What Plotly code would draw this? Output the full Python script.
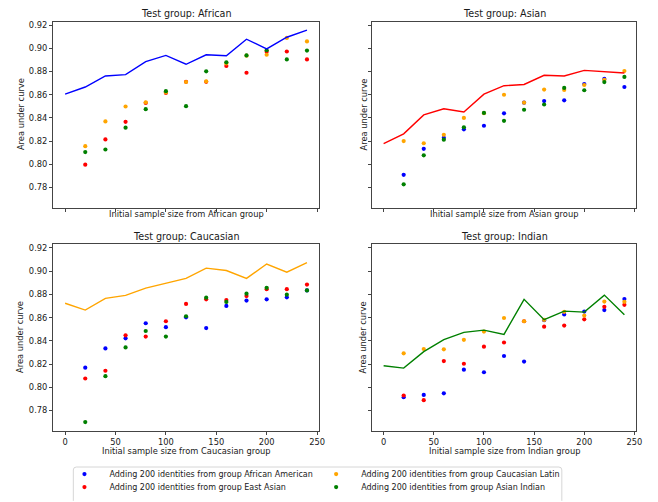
import plotly.graph_objects as go

# ---- data -------------------------------------------------------------
sample_sizes = [0, 20, 40, 60, 80, 100, 120, 140, 160, 180, 200, 220, 240]
added_sizes = [20, 40, 60, 80, 100, 120, 140, 160, 180, 200, 220, 240]

test_groups = ["African", "Asian", "Caucasian", "Indian"]
added_groups = ["African American", "East Asian", "Caucasian Latin", "Asian Indian"]
group_colors = ["blue", "red", "orange", "green"]

# AUC of the test group with only its own initial samples (line)
african_baseline = [0.8605, 0.8667, 0.8762, 0.8774, 0.8886, 0.8939, 0.8863,
                    0.8945, 0.8936, 0.9079, 0.8995, 0.9096, 0.9158]
asian_baseline = [0.8179, 0.8263, 0.8426, 0.8479, 0.8451, 0.8605, 0.8678,
                  0.8689, 0.8768, 0.8762, 0.8810, 0.8802, 0.8788]
caucasian_baseline = [0.8724, 0.8665, 0.8766, 0.8792, 0.8854, 0.8893, 0.8938,
                      0.9026, 0.9006, 0.8938, 0.9062, 0.8992, 0.9073]
indian_baseline = [0.8186, 0.8166, 0.8307, 0.8411, 0.8473, 0.8493, 0.8456,
                   0.8758, 0.8583, 0.8656, 0.8648, 0.8794, 0.8625]

# AUC after adding 200 identities from another group (points)
african_add_east_asian = [0.7997, 0.8215, 0.8367, 0.8530, 0.8616, 0.8712,
                          0.8712, 0.8849, 0.8790, 0.8970, 0.8973, 0.8905]
african_add_caucasian_latin = [0.8157, 0.8370, 0.8499, 0.8535, 0.8620, 0.8710,
                               0.8715, 0.8870, 0.8937, 0.8945, 0.9090, 0.9060]
african_add_asian_indian = [0.8106, 0.8128, 0.8316, 0.8476, 0.8631, 0.8502,
                            0.8802, 0.8880, 0.8939, 0.8984, 0.8905, 0.8981]

asian_add_african_american = [0.7910, 0.8134, 0.8229, 0.8302, 0.8333, 0.8440,
                              0.8532, 0.8546, 0.8552, 0.8692, 0.8737, 0.8667]
asian_add_caucasian_latin = [0.8201, 0.8182, 0.8255, 0.8400, 0.8441, 0.8600,
                             0.8532, 0.8645, 0.8642, 0.8684, 0.8729, 0.8805]
asian_add_asian_indian = [0.7828, 0.8078, 0.8213, 0.8319, 0.8443, 0.8375,
                          0.8471, 0.8516, 0.8659, 0.8639, 0.8709, 0.8754]

caucasian_add_african_american = [0.8169, 0.8335, 0.8422, 0.8552, 0.8518, 0.8603,
                                  0.8510, 0.8701, 0.8747, 0.8758, 0.8775, 0.8834]
caucasian_add_east_asian = [0.8076, 0.8143, 0.8448, 0.8437, 0.8569, 0.8718,
                            0.8758, 0.8752, 0.8786, 0.8845, 0.8845, 0.8885]
caucasian_add_asian_indian = [0.7701, 0.8096, 0.8344, 0.8485, 0.8437, 0.8612,
                              0.8772, 0.8735, 0.8806, 0.8857, 0.8798, 0.8834]

indian_add_african_american = [0.7915, 0.7935, 0.7949, 0.8152, 0.8130, 0.8270,
                               0.8222, 0.8578, 0.8628, 0.8652, 0.8665, 0.8760]
indian_add_east_asian = [0.7930, 0.7890, 0.8226, 0.8203, 0.8350, 0.8386,
                         0.8569, 0.8522, 0.8532, 0.8586, 0.8693, 0.8710]
indian_add_caucasian_latin = [0.8293, 0.8330, 0.8327, 0.8409, 0.8480, 0.8597,
                              0.8569, 0.8580, 0.8650, 0.8618, 0.8738, 0.8736]

x_ticks = [0, 50, 100, 150, 200, 250]
y_ticks = [0.78, 0.80, 0.82, 0.84, 0.86, 0.88, 0.90, 0.92]

baselines = {
    "African": african_baseline,
    "Asian": asian_baseline,
    "Caucasian": caucasian_baseline,
    "Indian": indian_baseline,
}
# per test group: {added group: values}
additions = {
    "African": {"East Asian": african_add_east_asian,
                "Caucasian Latin": african_add_caucasian_latin,
                "Asian Indian": african_add_asian_indian},
    "Asian": {"African American": asian_add_african_american,
              "Caucasian Latin": asian_add_caucasian_latin,
              "Asian Indian": asian_add_asian_indian},
    "Caucasian": {"African American": caucasian_add_african_american,
                  "East Asian": caucasian_add_east_asian,
                  "Asian Indian": caucasian_add_asian_indian},
    "Indian": {"African American": indian_add_african_american,
               "East Asian": indian_add_east_asian,
               "Caucasian Latin": indian_add_caucasian_latin},
}
# line colour = the group matching the test set
baseline_color = {"African": "blue", "Asian": "red",
                  "Caucasian": "orange", "Indian": "green"}
# legend grid: one legend box per entry, (column, row)
legend_cell = {"African American": ("legend", 0, 0),
               "East Asian": ("legend2", 0, 1),
               "Caucasian Latin": ("legend3", 1, 0),
               "Asian Indian": ("legend4", 1, 1)}

# ---- layout geometry (pixels) ----------------------------------------
W, H = 658, 502
cols_px = [(53.5, 322.0), (375.0, 642.3)]
rows_px = [(21.0, 210.7), (248.3, 438.3)]
legend_cols_px = [60.0, 314.0]
legend_rows_px = [482.7, 496.0]


def xdom(c):
    a, b = cols_px[c]
    return [a / W, b / W]


def ydom(r):
    a, b = rows_px[r]
    return [1 - b / H, 1 - a / H]


FONT = "DejaVu Sans"
TEXT = "#1a1a1a"
FS = 8.3        # tick / axis-label font
FS_LEG = 8.0    # legend font
FS_TITLE = 9.6  # subplot titles

fig = go.Figure()
shown = set()

for i, tg in enumerate(test_groups):
    ax = "" if i == 0 else str(i + 1)
    xa, ya = "x" + ax, "y" + ax
    # points first, the line is drawn on top of them
    for g, col in zip(added_groups, group_colors):
        if g not in additions[tg]:
            continue
        fig.add_trace(go.Scatter(
            x=added_sizes, y=additions[tg][g], mode="markers",
            marker=dict(color=col, size=4.2, line=dict(width=0)),
            name=f"Adding 200 identities from group {g}",
            legendgroup=g, legend=legend_cell[g][0],
            showlegend=g not in shown,
            xaxis=xa, yaxis=ya, hoverinfo="x+y+name",
        ))
        shown.add(g)
    fig.add_trace(go.Scatter(
        x=sample_sizes, y=baselines[tg], mode="lines",
        line=dict(color=baseline_color[tg], width=1.4),
        showlegend=False, xaxis=xa, yaxis=ya,
        name=f"Test group: {tg}",
    ))

axis_common = dict(
    showline=True, linecolor="#444", linewidth=1, mirror=True,
    ticks="outside", ticklen=3, tickwidth=0.8, tickcolor="#444",
    showgrid=False, zeroline=False,
    tickfont=dict(family=FONT, size=FS, color=TEXT),
)

layout = dict(
    width=W, height=H,
    margin=dict(l=0, r=0, t=0, b=0),
    paper_bgcolor="white", plot_bgcolor="white",
    font=dict(family=FONT, size=FS, color=TEXT),
)
annotations = []
for i, tg in enumerate(test_groups):
    r, c = divmod(i, 2)
    ax = "" if i == 0 else str(i + 1)
    layout["xaxis" + ax] = dict(
        axis_common, domain=xdom(c), anchor="y" + ax,
        range=[-12, 252], tickvals=x_ticks, showticklabels=(r == 1),
    )
    layout["yaxis" + ax] = dict(
        axis_common, domain=ydom(r), anchor="x" + ax,
        range=[0.7628, 0.9231], tickvals=y_ticks, tickformat=".2f",
        showticklabels=(c == 0),
    )
    top, bot = rows_px[r]
    # subplot title
    annotations.append(dict(
        text=f"Test group: {tg}", xref="x" + ax + " domain", x=0.5,
        yref="paper", y=1 - (top - 8.2) / H, xanchor="center", yanchor="middle",
        showarrow=False, font=dict(family=FONT, size=FS_TITLE, color=TEXT),
    ))
    # x-axis title
    xt_py = 217.3 if r == 0 else 459.3
    annotations.append(dict(
        text=f"Initial sample size from {tg} group", xref="x" + ax + " domain",
        x=0.5, yref="paper", y=1 - xt_py / H, xanchor="center",
        yanchor="middle", showarrow=False,
        font=dict(family=FONT, size=FS, color=TEXT),
    ))
    # y-axis title
    yt_px = 20.7 if c == 0 else 367.3
    annotations.append(dict(
        text="Area under curve", xref="paper", x=yt_px / W,
        yref="y" + ax + " domain", y=0.5, xanchor="center", yanchor="middle",
        textangle=-90, showarrow=False,
        font=dict(family=FONT, size=FS, color=TEXT),
    ))
layout["annotations"] = annotations

legend_common = dict(
    orientation="h", xanchor="left", yanchor="middle",
    bgcolor="rgba(0,0,0,0)", borderwidth=0, itemwidth=40,
    font=dict(family=FONT, size=FS_LEG, color=TEXT), itemclick=False,
)
for name, col, row in legend_cell.values():
    layout[name] = dict(legend_common, x=legend_cols_px[col] / W,
                        y=1 - legend_rows_px[row] / H)

# legend frame (rounded top corners; bottom runs off the page)
x0, x1, y0, y1, rr = 74.0, 567.0, 475.5, 510.0, 3.0
px = lambda v: v / W
py = lambda v: 1 - v / H
frame = (f"M {px(x0)},{py(y1)} L {px(x0)},{py(y0 + rr)} "
         f"Q {px(x0)},{py(y0)} {px(x0 + rr)},{py(y0)} "
         f"L {px(x1 - rr)},{py(y0)} Q {px(x1)},{py(y0)} {px(x1)},{py(y0 + rr)} "
         f"L {px(x1)},{py(y1)}")
layout["shapes"] = [dict(type="path", xref="paper", yref="paper", path=frame,
                         line=dict(color="#d6d6d6", width=1),
                         fillcolor="rgba(255,255,255,0.8)", layer="below")]

fig.update_layout(**layout)
fig.write_html("out.html")
